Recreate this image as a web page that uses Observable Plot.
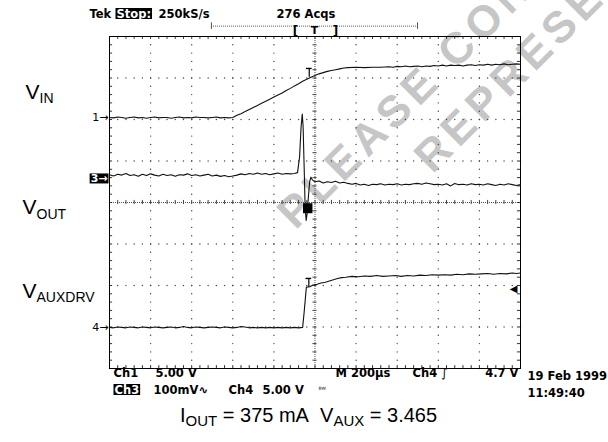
<!DOCTYPE html>
<html><head><meta charset="utf-8">
<script src="https://cdn.jsdelivr.net/npm/d3@7"></script>
<script src="https://cdn.jsdelivr.net/npm/@observablehq/plot@0.6"></script>
<style>
html,body{margin:0;padding:0;background:#fff;width:608px;height:442px;overflow:hidden;}
#wrap{position:relative;width:608px;height:400px;}
#caption{position:absolute;left:180px;top:405px;font-family:"Liberation Sans",Arial,sans-serif;font-size:20px;line-height:20px;color:#000;white-space:pre;}
#caption sub{font-size:15px;vertical-align:-4px;line-height:0;}
</style></head><body>
<div id="wrap"></div>
<div id="caption">I<sub>OUT</sub> = 375 mA&nbsp; V<sub>AUX</sub> = 3.465</div>
<script>
// ---- data: time in µs (200 µs/div), vertical in screen divisions ----
const vinTrace = [[0,2.05],[20,2.04],[40,2.06],[60,2.05],[80,2.03],[100,2.05],[120,2.06],[140,2.04],[160,2.05],[180,2.03],[200,2.05],[220,2.06],[240,2.04],[260,2.05],[280,2.05],[300,2.03],[320,2.05],[340,2.06],[360,2.04],[380,2.05],[400,2.04],[420,2.06],[440,2.05],[460,2.05],[480,2.04],[500,2.05],[520,2.06],[540,2.04],[560,2.05],[580,2.04],[600,2.05],[620,2.10],[640,2.14],[660,2.19],[680,2.24],[700,2.29],[720,2.34],[740,2.39],[760,2.44],[780,2.49],[800,2.54],[820,2.59],[840,2.64],[860,2.70],[880,2.75],[900,2.81],[920,2.86],[940,2.92],[960,2.97],[980,3.02],[1000,3.06],[1020,3.10],[1040,3.13],[1060,3.16],[1080,3.18],[1100,3.20],[1120,3.22],[1140,3.24],[1160,3.25],[1200,3.26],[1240,3.25],[1280,3.26],[1320,3.26],[1360,3.27],[1380,3.26],[1400,3.28],[1420,3.27],[1440,3.29],[1460,3.27],[1480,3.28],[1500,3.29],[1520,3.27],[1540,3.29],[1560,3.28],[1580,3.30],[1600,3.29],[1620,3.31],[1640,3.29],[1660,3.31],[1680,3.30],[1700,3.31],[1720,3.29],[1740,3.31],[1760,3.32],[1780,3.30],[1800,3.32],[1820,3.31],[1840,3.33],[1860,3.31],[1880,3.33],[1900,3.32],[1920,3.34],[1940,3.32],[1960,3.33],[1980,3.34],[2000,3.33]];
const voutTrace = [[0,0.67],[20,0.64],[40,0.68],[60,0.66],[80,0.70],[100,0.65],[120,0.67],[140,0.63],[160,0.68],[180,0.65],[200,0.69],[220,0.66],[240,0.64],[260,0.68],[280,0.65],[300,0.67],[320,0.63],[340,0.67],[360,0.66],[380,0.69],[400,0.65],[420,0.67],[440,0.64],[460,0.66],[480,0.68],[500,0.64],[520,0.66],[540,0.63],[560,0.65],[580,0.62],[600,0.64],[620,0.66],[640,0.69],[660,0.67],[680,0.70],[700,0.68],[720,0.71],[740,0.68],[760,0.70],[780,0.67],[800,0.69],[820,0.71],[840,0.68],[860,0.70],[880,0.69],[900,0.70],[915,0.72],[925,1.10],[932,1.80],[938,2.13],[942,1.85],[947,0.90],[952,-0.10],[957,-0.43],[962,-0.25],[968,0.15],[974,0.50],[980,0.61],[988,0.54],[1000,0.50],[1020,0.52],[1040,0.47],[1060,0.50],[1080,0.48],[1100,0.51],[1120,0.47],[1140,0.49],[1160,0.46],[1180,0.44],[1200,0.46],[1220,0.42],[1240,0.44],[1260,0.41],[1280,0.44],[1300,0.43],[1320,0.45],[1340,0.42],[1360,0.44],[1380,0.43],[1400,0.45],[1420,0.42],[1440,0.44],[1460,0.43],[1480,0.45],[1500,0.46],[1520,0.44],[1540,0.47],[1560,0.45],[1580,0.43],[1600,0.44],[1620,0.42],[1640,0.45],[1660,0.40],[1680,0.46],[1700,0.43],[1720,0.44],[1740,0.42],[1760,0.45],[1780,0.43],[1800,0.44],[1820,0.42],[1840,0.45],[1860,0.43],[1880,0.41],[1900,0.44],[1920,0.42],[1940,0.45],[1960,0.43],[1980,0.41],[2000,0.43]];
const vauxTrace = [[0,-3.01],[20,-3.02],[40,-3.00],[60,-3.01],[80,-3.02],[100,-3.00],[120,-3.01],[140,-3.02],[160,-3.00],[180,-3.01],[200,-3.02],[220,-3.00],[240,-3.01],[260,-3.02],[280,-3.01],[300,-3.00],[320,-3.02],[340,-3.01],[360,-2.99],[380,-3.01],[400,-3.02],[420,-3.00],[440,-3.01],[460,-3.02],[480,-3.01],[500,-3.00],[520,-3.01],[540,-3.02],[560,-3.00],[580,-3.01],[600,-3.02],[620,-3.01],[640,-2.99],[660,-3.00],[680,-3.02],[700,-3.01],[720,-3.02],[740,-3.01],[760,-3.02],[780,-3.01],[800,-3.02],[820,-3.01],[840,-3.02],[860,-3.01],[880,-3.02],[900,-3.01],[920,-3.02],[940,-3.01],[948,-2.60],[958,-2.04],[975,-2.03],[990,-1.99],[1010,-1.97],[1030,-1.94],[1050,-1.92],[1070,-1.89],[1090,-1.86],[1110,-1.83],[1130,-1.81],[1150,-1.80],[1180,-1.78],[1210,-1.79],[1240,-1.77],[1270,-1.78],[1300,-1.76],[1330,-1.78],[1360,-1.77],[1390,-1.76],[1420,-1.78],[1450,-1.76],[1480,-1.77],[1510,-1.75],[1540,-1.76],[1570,-1.74],[1600,-1.75],[1630,-1.74],[1660,-1.75],[1690,-1.73],[1720,-1.74],[1750,-1.72],[1780,-1.73],[1810,-1.72],[1840,-1.71],[1870,-1.73],[1900,-1.71],[1930,-1.72],[1960,-1.70],[1980,-1.71],[2000,-1.70]];
const voutBlob = [{t1:944, t2:990, v1:-0.03, v2:-0.27}];
const channelLevels = [{label:"1", level:2.05},{label:"4", level:-3.01}];
const ch3Level = [{label:"3", level:0.58}];
const triggerLevel = [-2.07];
const triggerMarks = [{t:972, top:3.23, bottom:3.02},{t:970, top:-1.83, bottom:-2.05}];
const recordBar = {from:496, to:1499, winFrom:905, winTo:1100, trig:998, level:4.25};

// ---- layout ----
const W=608, H=400, ML=109, MR=88, MT=36, MB=32;
const scopeFont = {fontFamily:"DejaVu Sans", fontSize:11.5, fontWeight:"bold", fill:"#000"};
function txt(s, px, py, o={}) {
  return Plot.text([s], {frameAnchor:"top-left", dx:px-ML, dy:py-MT, textAnchor:"start", lineAnchor:"bottom", ...scopeFont, ...o});
}
const labelFont = {fontFamily:"Liberation Sans", fontWeight:"normal"};
// graticule (structure, not data)
const gridDots = [];
for (let i=1;i<10;i++) if (i!==5) for (let j=0;j<=40;j++) gridDots.push({x:i*200, y:-4+j*0.2});
for (let k=-3;k<=3;k++) if (k!==0) for (let j=0;j<=50;j++) gridDots.push({x:j*40, y:k});
const minorX = d3.range(0, 2001, 40);
const minorY = d3.range(-4, 4.001, 0.2);

const traceStyle = {x:d=>d[0], y:d=>d[1], stroke:"#111", strokeWidth:1.1, curve:"linear"};
const wmStyle = {fontFamily:"Liberation Sans", fontSize:44, fontWeight:"bold", fill:"#c6c6c6", rotate:-45, textAnchor:"start", lineAnchor:"bottom", frameAnchor:"top-left"};
const inverted = ["Stop:", "Ch3", "3→"];
const watermark = ["PLEASE CONSULT", "REPRESENTATIVE"];

const plot = Plot.plot({
  width:W, height:H, marginLeft:ML, marginRight:MR, marginTop:MT, marginBottom:MB,
  x:{domain:[0,2000], axis:null}, y:{domain:[-4,4], axis:null},
  style:{background:"#fff", overflow:"visible"},
  marks:[
    Plot.text([watermark[0]], {...wmStyle, dx:295-ML, dy:230-MT}),
    Plot.text([watermark[1]], {...wmStyle, dx:432-ML, dy:174-MT}),
    Plot.dot(gridDots, {x:"x", y:"y", r:0.7, fill:"#444", stroke:null}),
    Plot.ruleX([1000], {stroke:"#555", strokeWidth:1, strokeDasharray:"1,1"}),
    Plot.ruleY([0], {stroke:"#555", strokeWidth:1, strokeDasharray:"1,1"}),
    Plot.ruleY(minorY, {y:d=>d, x1:990, x2:1010, stroke:"#444"}),
    Plot.ruleX(minorX, {x:d=>d, y1:-0.05, y2:0.05, stroke:"#444"}),
    Plot.ruleX(minorX, {x:d=>d, y1:4, y2:3.93, stroke:"#333"}),
    Plot.ruleX(minorX, {x:d=>d, y1:-4, y2:-3.93, stroke:"#333"}),
    Plot.ruleY(minorY, {y:d=>d, x1:0, x2:15, stroke:"#333"}),
    Plot.ruleY(minorY, {y:d=>d, x1:1985, x2:2000, stroke:"#333"}),
    Plot.frame({stroke:"#000", strokeWidth:1}),
    // traces
    Plot.line(vinTrace, traceStyle),
    Plot.line(voutTrace, traceStyle),
    Plot.rect(voutBlob, {x1:"t1", x2:"t2", y1:"v1", y2:"v2", fill:"#000"}),
    Plot.line(vauxTrace, traceStyle),
    // trigger markers
    Plot.ruleX(triggerMarks, {x:"t", y1:"top", y2:"bottom", stroke:"#000", strokeWidth:1.2}),
    Plot.ruleY(triggerMarks, {y:"top", x1:d=>d.t-14, x2:d=>d.t+14, stroke:"#000", strokeWidth:1.4}),
    Plot.text(triggerLevel, {y:d=>d, frameAnchor:"right", dx:-3, text:()=>"◀", fontSize:10, fontFamily:"DejaVu Sans", fill:"#000"}),
    // channel markers
    Plot.text(channelLevels, {y:"level", text:d=>d.label+"→", frameAnchor:"left", dx:-1, textAnchor:"end", fontFamily:"DejaVu Sans", fontSize:11, fill:"#000"}),
    Plot.text(ch3Level, {y:"level", text:d=>d.label+"→", frameAnchor:"left", dx:-2, textAnchor:"end", fontFamily:"DejaVu Sans", fontSize:11, fontWeight:"bold", fill:"#fff"}),
    // record bar
    Plot.ruleY([recordBar.level], {x1:recordBar.from, x2:recordBar.to, stroke:"#555", strokeDasharray:"1,1"}),
    Plot.ruleX([recordBar.from, recordBar.to], {x:d=>d, y1:recordBar.level-0.08, y2:recordBar.level+0.08, stroke:"#555"}),
    Plot.text(["["], {x:recordBar.winFrom, frameAnchor:"top", dy:-10, ...scopeFont, fontSize:12}),
    Plot.text(["]"], {x:recordBar.winTo, frameAnchor:"top", dy:-10, ...scopeFont, fontSize:12}),
    Plot.text(["T"], {x:recordBar.trig, frameAnchor:"top", dy:-10, ...scopeFont, fontSize:11}),
    // header
    txt("Tek", 89, 17),
    txt("Stop:", 116, 17, {fill:"#fff"}),
    txt("250kS/s", 158, 17),
    txt("276 Acqs", 276, 17),
    // footer
    txt("Ch1", 113, 376),
    txt("5.00 V", 155, 376),
    txt("M 200µs", 335, 376),
    txt("Ch4", 412, 376),
    txt("∫", 441, 376, {fontWeight:"normal"}),
    txt("4.7 V", 518, 376, {textAnchor:"end"}),
    txt("19 Feb 1999", 527, 379),
    txt("Ch3", 114, 393, {fill:"#fff"}),
    txt("100mV∿", 153, 393),
    txt("Ch4", 228, 393),
    txt("5.00 V", 262, 393),
    txt("ᴮᵂ", 318, 391, {fontSize:7, fontWeight:"normal"}),
    txt("11:49:40", 527, 396),
    // left labels
    txt("V", 25, 98, {...labelFont, fontSize:21}),
    txt("IN", 39, 102, {...labelFont, fontSize:14}),
    txt("V", 22, 213, {...labelFont, fontSize:21}),
    txt("OUT", 36, 218, {...labelFont, fontSize:14}),
    txt("V", 22, 297, {...labelFont, fontSize:21}),
    txt("AUXDRV", 36, 301, {...labelFont, fontSize:14})
  ]
});
document.getElementById("wrap").appendChild(plot);
const svg = d3.select(plot);
svg.selectAll("text").filter(function(){ return watermark.includes(this.textContent); }).style("letter-spacing","5.5px");
svg.selectAll("text").filter(function(){ return inverted.includes(this.textContent); }).each(function() {
  const b = this.getBBox();
  const r = document.createElementNS("http://www.w3.org/2000/svg","rect");
  r.setAttribute("x", b.x-1); r.setAttribute("y", b.y+1.5);
  r.setAttribute("width", b.width+2); r.setAttribute("height", b.height-3);
  r.setAttribute("fill","#000");
  const tr = this.getAttribute("transform");
  if (tr) r.setAttribute("transform", tr);
  this.parentNode.insertBefore(r, this);
});
</script></body></html>
